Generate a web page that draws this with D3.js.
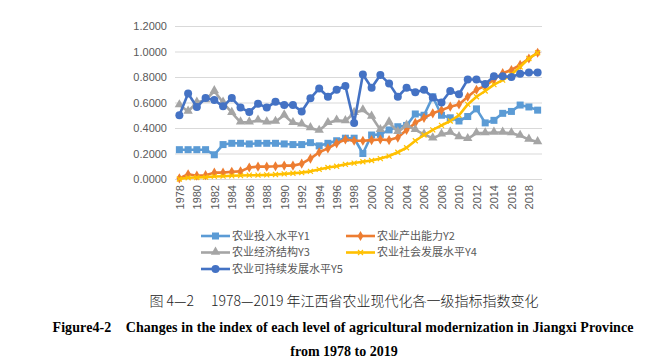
<!DOCTYPE html>
<html>
<head>
<meta charset="utf-8">
<script src="https://cdn.jsdelivr.net/npm/d3@7"></script>
<style>
    body { margin: 0; background: #fff; }
    svg { display: block; }
</style>
</head>
<body>
<script>
var years = d3.range(1978, 2020);

var seriesNames = ["农业投入水平Y1", "农业产出能力Y2", "农业经济结构Y3", "农业社会发展水平Y4", "农业可持续发展水平Y5"];
var seriesColors = ["#5B9BD5", "#ED7D31", "#A5A5A5", "#FFC000", "#4472C4"];
var seriesMarkers = ["square", "diamond", "triangle", "cross", "circle"];

var y1 = [0.23, 0.23, 0.23, 0.23, 0.19, 0.27, 0.28, 0.28, 0.275, 0.28, 0.28, 0.28, 0.275, 0.27, 0.27, 0.285, 0.26, 0.28, 0.30, 0.32,
    0.32, 0.20, 0.345, 0.35, 0.385, 0.41, 0.42, 0.51, 0.50, 0.645, 0.50, 0.48, 0.455, 0.49, 0.55, 0.44, 0.46, 0.515, 0.53, 0.58, 0.565, 0.54];
var y2 = [0.005, 0.037, 0.026, 0.03, 0.05, 0.05, 0.057, 0.06, 0.09, 0.097, 0.097, 0.10, 0.105, 0.105, 0.12, 0.16, 0.21, 0.24, 0.28, 0.31,
    0.30, 0.30, 0.305, 0.31, 0.305, 0.325, 0.385, 0.44, 0.48, 0.515, 0.54, 0.567, 0.585, 0.645, 0.70, 0.73, 0.78, 0.83, 0.855, 0.895, 0.945, 0.99];
var y3 = [0.58, 0.53, 0.60, 0.62, 0.69, 0.60, 0.52, 0.445, 0.445, 0.46, 0.445, 0.45, 0.50, 0.44, 0.43, 0.40, 0.38, 0.44, 0.46, 0.455,
    0.52, 0.54, 0.49, 0.385, 0.445, 0.37, 0.42, 0.385, 0.35, 0.32, 0.35, 0.365, 0.33, 0.315, 0.36, 0.36, 0.365, 0.365, 0.36, 0.34, 0.31, 0.29];
var y4 = [0.00, 0.01, 0.012, 0.015, 0.02, 0.022, 0.025, 0.027, 0.03, 0.03, 0.032, 0.035, 0.04, 0.045, 0.05, 0.06, 0.075, 0.09, 0.10, 0.115,
    0.125, 0.135, 0.145, 0.16, 0.18, 0.21, 0.245, 0.30, 0.345, 0.385, 0.42, 0.455, 0.50, 0.585, 0.645, 0.69, 0.74, 0.775, 0.82, 0.88, 0.945, 0.99];
var y5 = [0.50, 0.67, 0.565, 0.635, 0.62, 0.57, 0.635, 0.56, 0.525, 0.59, 0.56, 0.605, 0.58, 0.58, 0.53, 0.633, 0.71, 0.645, 0.70, 0.73,
    0.44, 0.82, 0.716, 0.815, 0.75, 0.645, 0.716, 0.68, 0.70, 0.64, 0.60, 0.69, 0.665, 0.78, 0.78, 0.745, 0.805, 0.805, 0.80, 0.825, 0.835, 0.835];

var yTicks = [0, 0.2, 0.4, 0.6, 0.8, 1.0, 1.2];
var xTickYears = years.filter(function (d) { return d % 2 === 0; });

var captionCn = "图 4—2\u3000 1978—2019 年江西省农业现代化各一级指标指数变化";
var captionEn1 = "Figure4-2\u00a0\u00a0\u00a0\u00a0Changes in the index of each level of agricultural modernization in Jiangxi Province";
var captionEn2 = "from 1978 to 2019";

function draw() {
    var width = 671,
        height = 359,
        left = 175,
        right = 542,
        top = 26,
        bottom = 179;

    var svg = d3.select("body").append("svg")
        .attr("width", width)
        .attr("height", height);

    var x = d3.scalePoint()
        .domain(years)
        .range([left, right])
        .padding(0.5);

    var y = d3.scaleLinear()
        .domain([0, 1.2])
        .range([bottom, top]);

    // gridlines + y labels
    var yAxis = d3.axisLeft(y)
        .tickValues(yTicks)
        .tickFormat(d3.format(".4f"))
        .tickSize(-(right - left))
        .tickPadding(8);

    var gy = svg.append("g")
        .attr("transform", "translate(" + left + ",0)")
        .call(yAxis);
    gy.select(".domain").remove();
    gy.selectAll(".tick line").attr("stroke", "#D9D9D9").attr("stroke-width", 1);
    gy.selectAll(".tick text")
        .attr("fill", "#595959")
        .style("font-family", "'Liberation Sans', Arial, sans-serif")
        .style("font-size", "11px");

    // x labels (rotated)
    var xAxis = d3.axisBottom(x)
        .tickValues(xTickYears)
        .tickSize(0)
        .tickPadding(0);
    var gx = svg.append("g")
        .attr("transform", "translate(0," + bottom + ")")
        .call(xAxis);
    gx.select(".domain").remove();
    gx.selectAll(".tick text")
        .attr("fill", "#595959")
        .style("font-family", "'Liberation Sans', Arial, sans-serif")
        .style("font-size", "11px")
        .attr("text-anchor", "end")
        .attr("dy", "0.35em")
        .attr("transform", "translate(0,6) rotate(-90)")
        .attr("x", 0)
        .attr("y", 0);

    var allSeries = [y1, y2, y3, y4, y5];

    var line = d3.line()
        .x(function (d, i) { return x(years[i]); })
        .y(function (d) { return y(d); });

    allSeries.forEach(function (vals, k) {
        var g = svg.append("g");
        g.append("path")
            .datum(vals)
            .attr("d", line)
            .attr("fill", "none")
            .attr("stroke", seriesColors[k])
            .attr("stroke-width", 2.6)
            .attr("stroke-linejoin", "round");
        drawMarkers(g, vals.map(function (v, i) { return [x(years[i]), y(v)]; }), seriesMarkers[k], seriesColors[k]);
    });

    function drawMarkers(g, pts, type, color) {
        pts.forEach(function (p) {
            marker(g, p[0], p[1], type, color);
        });
    }

    function marker(g, cx, cy, type, color) {
        if (type === "square") {
            g.append("rect").attr("x", cx - 3.5).attr("y", cy - 3.5).attr("width", 7).attr("height", 7).attr("fill", color);
        } else if (type === "diamond") {
            g.append("path").attr("d", d3.symbol(d3.symbolDiamond, 30)()).attr("transform", "translate(" + cx + "," + cy + ")").attr("fill", color);
        } else if (type === "triangle") {
            g.append("path").attr("d", d3.symbol(d3.symbolTriangle, 38)()).attr("transform", "translate(" + cx + "," + (cy - 0.5) + ")").attr("fill", color);
        } else if (type === "cross") {
            g.append("path").attr("d", "M-2.5,-2.5L2.5,2.5M-2.5,2.5L2.5,-2.5").attr("transform", "translate(" + cx + "," + cy + ")")
                .attr("stroke", color).attr("stroke-width", 1.2).attr("fill", "none");
        } else {
            g.append("circle").attr("cx", cx).attr("cy", cy).attr("r", 4).attr("fill", color);
        }
    }

    // legend
    var legendPos = [[201, 236], [346, 236], [201, 252.5], [346, 252.5], [201, 269]];
    var leg = svg.append("g");
    seriesNames.forEach(function (name, k) {
        var lx = legendPos[k][0], ly = legendPos[k][1];
        leg.append("line")
            .attr("x1", lx).attr("x2", lx + 29)
            .attr("y1", ly).attr("y2", ly)
            .attr("stroke", seriesColors[k])
            .attr("stroke-width", 2.6);
        marker(leg, lx + 14.5, ly, seriesMarkers[k], seriesColors[k]);
        leg.append("text")
            .attr("x", lx + 31)
            .attr("y", ly)
            .attr("dy", "0.35em")
            .attr("fill", "#595959")
            .style("font-family", "'Noto Sans CJK SC', sans-serif")
            .style("font-size", "11px")
            .text(name);
    });

    // captions
    svg.append("text")
        .attr("x", 344).attr("y", 306)
        .attr("text-anchor", "middle")
        .attr("fill", "#222")
        .style("font-family", "'Noto Sans CJK SC', sans-serif")
        .style("font-weight", "300")
        .style("font-size", "14px")
        .text(captionCn);

    svg.append("text")
        .attr("x", 52.5).attr("y", 331.5)
        .attr("textLength", 581)
        .attr("lengthAdjust", "spacing")
        .attr("fill", "#000")
        .style("font-family", "'Liberation Serif', serif")
        .style("font-weight", "bold")
        .style("font-size", "14px")
        .text(captionEn1);

    svg.append("text")
        .attr("x", 344).attr("y", 355.5)
        .attr("text-anchor", "middle")
        .attr("fill", "#000")
        .style("font-family", "'Liberation Serif', serif")
        .style("font-weight", "bold")
        .style("font-size", "14px")
        .text(captionEn2);
}

window.addEventListener('load', function () {
    draw();
});
</script>
</body>
</html>
